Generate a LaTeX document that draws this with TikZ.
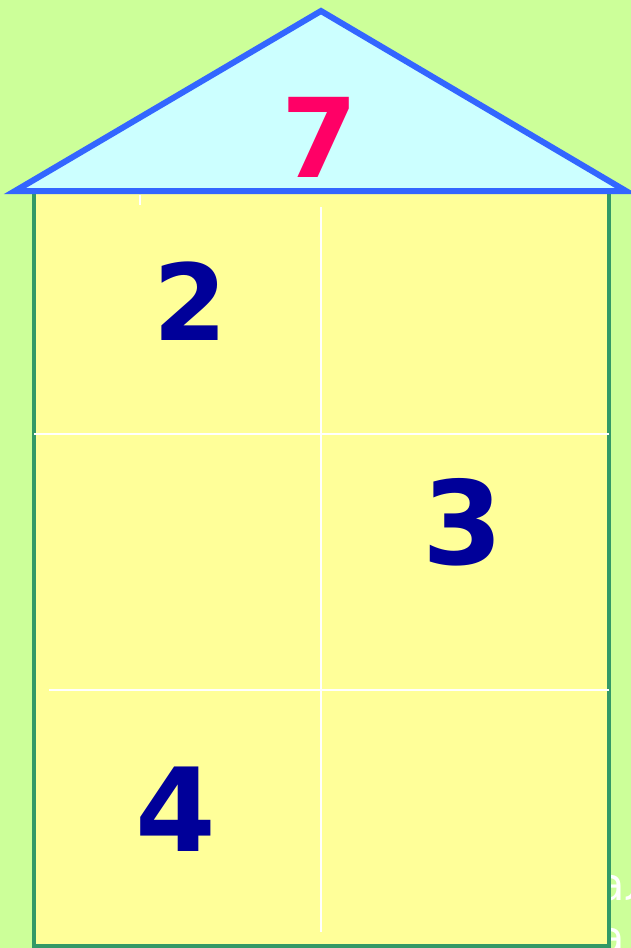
\documentclass[tikz,border=0pt]{standalone}
\usepackage{fontspec}
\setmainfont{DejaVu Sans}
\usetikzlibrary{positioning}
\definecolor{meadow}{RGB}{204,255,153}
\definecolor{roofsky}{RGB}{204,255,255}
\definecolor{roofblue}{RGB}{51,102,255}
\definecolor{wallyellow}{RGB}{255,255,153}
\definecolor{wallgreen}{RGB}{51,153,102}
\definecolor{numnavy}{RGB}{0,0,153}
\definecolor{numpink}{RGB}{255,0,102}

\begin{document}
\begin{tikzpicture}[x=1pt,y=-1pt]
  \tikzstyle{digit}=[text=numnavy,font=\fontsize{106}{106}\selectfont\bfseries,inner sep=0pt]
  \tikzstyle{bigdigit}=[digit,font=\fontsize{116}{116}\selectfont\bfseries]
  \tikzstyle{split}=[white,line width=2pt]
  \tikzstyle{caption}=[white,font=\fontsize{45}{45}\selectfont,anchor=base west,inner sep=0pt]

  % -- background --
  \fill[meadow] (0,0) rectangle (631,948);
  \useasboundingbox (0,0) rectangle (631,948);

  % -- caption, mostly hidden behind the house --
  \node[caption] (cap1) at (597,900) {ал};
  \node[caption] (cap2) at (597,953) {а};

  % -- house body --
  \draw[wallgreen,line width=4pt,fill=wallyellow] (34,191) rectangle (609,946);
  \draw[split] (321,207) -- (321,932);
  \draw[split] (140,195) -- (140,205);
  \draw[split] (34,434) -- (609,434);
  \draw[split] (49,690) -- (609,690);

  % -- roof --
  \draw[roofblue,line width=6pt,line join=miter,fill=roofsky]
    (15,191) -- (321,11) -- (626,191) -- cycle;
  \node[digit,text=numpink,font=\fontsize{110}{110}\selectfont\bfseries] (top) at (320,137) {7};

  % -- rooms --
  \node[digit] (left1) at (190,301) {2};
  \node[bigdigit] (right2) at (463,522) {3};
  \node[bigdigit] (left3) at (176,809) {4};
\end{tikzpicture}
\end{document}
